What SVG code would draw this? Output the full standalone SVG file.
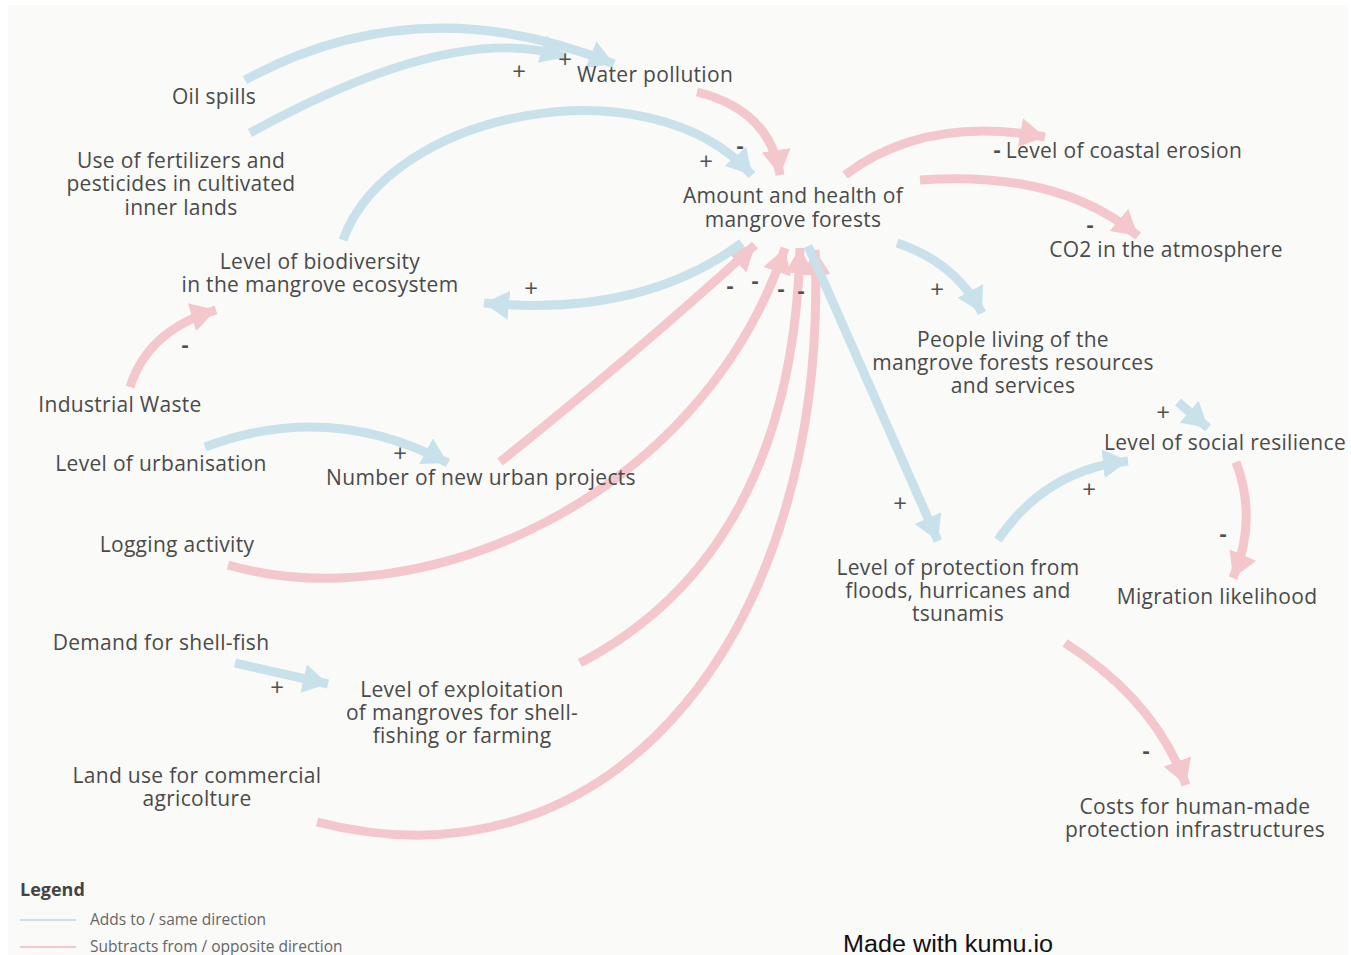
<svg xmlns="http://www.w3.org/2000/svg" width="1351" height="955" viewBox="0 0 1351 955">
  <style>
    .node text { font-family: "Open Sans", Lato, sans-serif; font-size: 21px; letter-spacing: 0.3px; fill: #4a4a4a; text-anchor: middle; }
    .pol { font-family: "Open Sans", Lato, sans-serif; font-size: 24px; fill: #505050; text-anchor: middle; }
    .neg { font-weight: bold; font-size: 22px; }
    .add { fill: none; stroke: #c9e1ea; stroke-width: 9; marker-end: url(#headAdd); }
    .sub { fill: none; stroke: #f3c7cc; stroke-width: 9; marker-end: url(#headSub); }
    .legend-title { font-family: "Open Sans", Lato, sans-serif; font-size: 18px; font-weight: bold; fill: #444444; }
    .legend-item { font-family: "Open Sans", Lato, sans-serif; font-size: 15.5px; fill: #666666; }
    .credit { font-family: "Liberation Sans", Arial, sans-serif; font-size: 23px; fill: #111111; }
  </style>
  <defs>
    <marker id="headAdd" viewBox="0 0 25 29" refX="25" refY="14.5" markerWidth="25" markerHeight="29" markerUnits="userSpaceOnUse" orient="auto">
      <path d="M0,0 L25,14.5 L0,29 z" fill="#c9e1ea"/>
    </marker>
    <marker id="headSub" viewBox="0 0 25 29" refX="25" refY="14.5" markerWidth="25" markerHeight="29" markerUnits="userSpaceOnUse" orient="auto">
      <path d="M0,0 L25,14.5 L0,29 z" fill="#f3c7cc"/>
    </marker>
  </defs>

  <!-- canvas -->
  <rect x="0" y="0" width="1351" height="955" fill="#ffffff"/>
  <rect x="8" y="5" width="1340" height="950" fill="#fafaf8"/>

  <!-- connectors -->
  <g id="connectors">
    <!-- subtracting links -->
    <path class="sub" d="M697,92 Q770,110 780,175"/>
    <path class="sub" d="M845,175 Q925,115 1045,137"/>
    <path class="sub" d="M920,180 Q1060,170 1138,236"/>
    <path class="sub" d="M130,387 Q148,330 216,310"/>
    <path class="sub" d="M500,462 Q640,350 755,245"/>
    <path class="sub" d="M228,565 C420,620 700,500 785,248"/>
    <path class="sub" d="M580,663 C720,590 795,450 800,248"/>
    <path class="sub" d="M317,822 C620,900 830,620 815,250"/>
    <path class="sub" d="M1236,462 Q1258,520 1233,578"/>
    <path class="sub" d="M1065,643 Q1155,700 1186,785"/>
    <!-- adding links -->
    <path class="add" d="M245,80 Q420,-15 614,64"/>
    <path class="add" d="M250,133 Q455,20 566,57"/>
    <path class="add" d="M343,240 C390,110 650,60 752,175"/>
    <path class="add" d="M742,243 Q640,318 484,303"/>
    <path class="add" d="M205,447 Q330,400 448,463"/>
    <path class="add" d="M808,246 L938,541"/>
    <path class="add" d="M897,243 Q955,262 982,313"/>
    <path class="add" d="M998,540 Q1045,470 1128,461"/>
    <path class="add" d="M1178,402 L1208,428"/>
    <path class="add" d="M235,663 L328,684"/>

    <!-- polarity labels -->
    <text class="pol" x="519" y="80">+</text>
    <text class="pol" x="565" y="68">+</text>
    <text class="pol" x="706" y="170">+</text>
    <text class="pol neg" x="740" y="153">-</text>
    <text class="pol neg" x="997" y="157">-</text>
    <text class="pol neg" x="1090" y="232">-</text>
    <text class="pol" x="531" y="297">+</text>
    <text class="pol neg" x="185" y="352">-</text>
    <text class="pol neg" x="730" y="293">-</text>
    <text class="pol neg" x="755" y="288">-</text>
    <text class="pol neg" x="781" y="296">-</text>
    <text class="pol neg" x="801" y="298">-</text>
    <text class="pol" x="937" y="298">+</text>
    <text class="pol" x="400" y="462">+</text>
    <text class="pol" x="1163" y="421">+</text>
    <text class="pol" x="1089" y="498">+</text>
    <text class="pol" x="900" y="512">+</text>
    <text class="pol neg" x="1223" y="541">-</text>
    <text class="pol" x="277" y="696">+</text>
    <text class="pol neg" x="1146" y="758">-</text>
  </g>

  <!-- nodes -->
  <g id="oil-spills" class="node"><text x="214" y="104">Oil spills</text></g>
  <g id="water-pollution" class="node"><text x="655" y="82">Water pollution</text></g>
  <g id="fertilizers" class="node">
    <text x="181" y="168">Use of fertilizers and<tspan x="181" dy="23">pesticides in cultivated</tspan><tspan x="181" dy="24">inner lands</tspan></text>
  </g>
  <g id="mangrove-forests" class="node">
    <text x="793" y="203">Amount and health of<tspan x="793" dy="24">mangrove forests</tspan></text>
  </g>
  <g id="coastal-erosion" class="node"><text x="1124" y="158">Level of coastal erosion</text></g>
  <g id="co2" class="node"><text x="1166" y="257">CO2 in the atmosphere</text></g>
  <g id="biodiversity" class="node">
    <text x="320" y="269">Level of biodiversity<tspan x="320" dy="23">in the mangrove ecosystem</tspan></text>
  </g>
  <g id="people-living" class="node">
    <text x="1013" y="347">People living of the<tspan x="1013" dy="23">mangrove forests resources</tspan><tspan x="1013" dy="23">and services</tspan></text>
  </g>
  <g id="industrial-waste" class="node"><text x="120" y="412">Industrial Waste</text></g>
  <g id="social-resilience" class="node"><text x="1225" y="450">Level of social resilience</text></g>
  <g id="urbanisation" class="node"><text x="161" y="471">Level of urbanisation</text></g>
  <g id="urban-projects" class="node"><text x="481" y="485">Number of new urban projects</text></g>
  <g id="logging" class="node"><text x="177" y="552">Logging activity</text></g>
  <g id="protection" class="node">
    <text x="958" y="575">Level of protection from<tspan x="958" dy="23">floods, hurricanes and</tspan><tspan x="958" dy="23">tsunamis</tspan></text>
  </g>
  <g id="migration" class="node"><text x="1217" y="604">Migration likelihood</text></g>
  <g id="shellfish-demand" class="node"><text x="161" y="650">Demand for shell-fish</text></g>
  <g id="exploitation" class="node">
    <text x="462" y="697">Level of exploitation<tspan x="462" dy="23">of mangroves for shell-</tspan><tspan x="462" dy="23">fishing or farming</tspan></text>
  </g>
  <g id="land-use" class="node">
    <text x="197" y="783">Land use for commercial<tspan x="197" dy="23">agricolture</tspan></text>
  </g>
  <g id="protection-costs" class="node">
    <text x="1195" y="814">Costs for human-made<tspan x="1195" dy="23">protection infrastructures</tspan></text>
  </g>

  <!-- legend -->
  <g id="legend">
    <text class="legend-title" x="20" y="896">Legend</text>
    <line x1="20" y1="920" x2="76" y2="920" stroke="#c9e1ea" stroke-width="2"/>
    <text class="legend-item" x="90" y="925">Adds to / same direction</text>
    <line x1="20" y1="947" x2="76" y2="947" stroke="#f3c7cc" stroke-width="2"/>
    <text class="legend-item" x="90" y="952">Subtracts from / opposite direction</text>
  </g>

  <text class="credit" x="843" y="952" textLength="210" lengthAdjust="spacingAndGlyphs">Made with kumu.io</text>
</svg>
